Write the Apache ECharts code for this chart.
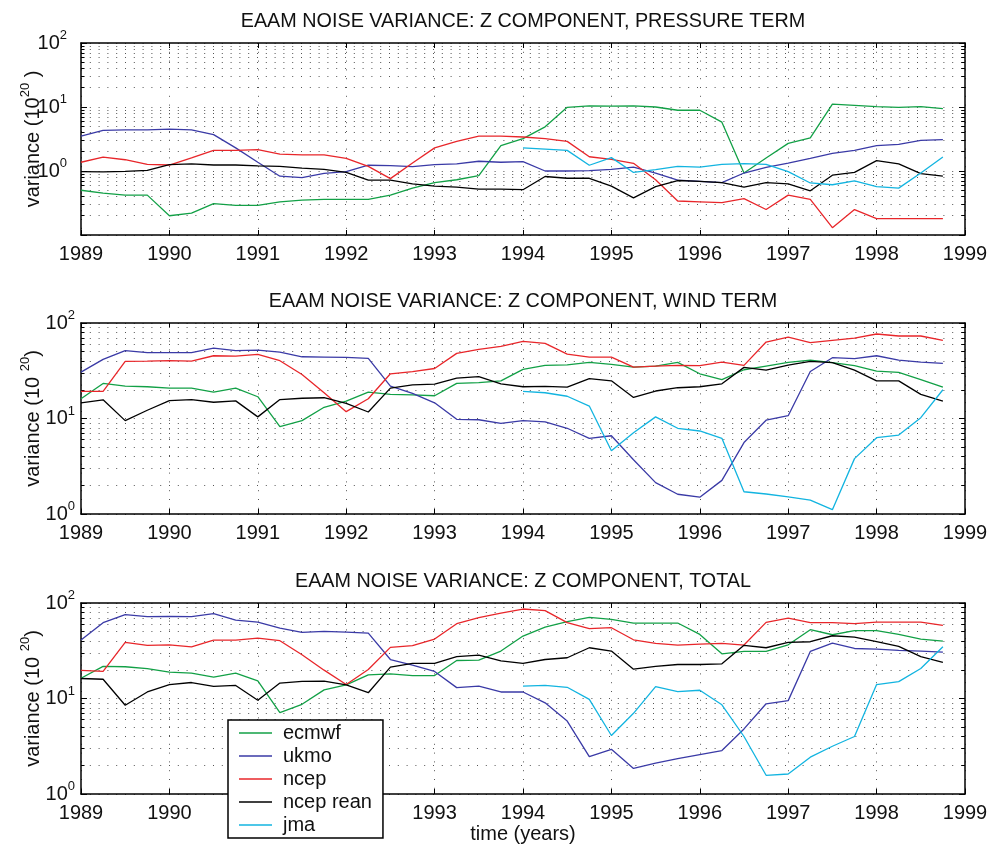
<!DOCTYPE html>
<html><head><meta charset="utf-8">
<script src="https://cdn.jsdelivr.net/npm/echarts@6/dist/echarts.min.js"></script>
<style>html,body{margin:0;padding:0;background:#fff}#c{width:987px;height:845px}</style>
</head><body><div id="c"></div>
<script>
// sample times (quarterly)
const times = [1989,1989.25,1989.5,1989.75,1990,1990.25,1990.5,1990.75,1991,1991.25,1991.5,1991.75,1992,1992.25,1992.5,1992.75,1993,1993.25,1993.5,1993.75,
  1994,1994.25,1994.5,1994.75,1995,1995.25,1995.5,1995.75,1996,1996.25,1996.5,1996.75,1997,1997.25,1997.5,1997.75,1998,1998.25,1998.5,1998.75];
const jmaTimes = times.slice(20);
const seriesNames = ['ecmwf','ukmo','ncep','ncep rean','jma'];
const seriesColors = ['#12a046','#3a3aa6','#e8262a','#000000','#12b4e0'];
const panelTitles = ['EAAM NOISE VARIANCE: Z COMPONENT, PRESSURE TERM','EAAM NOISE VARIANCE: Z COMPONENT, WIND TERM','EAAM NOISE VARIANCE: Z COMPONENT, TOTAL'];
const xTickYears = [1989,1990,1991,1992,1993,1994,1995,1996,1997,1998,1999];

// Panel 1: pressure term
const ecmwfP = [0.50,0.45,0.42,0.42,0.20,0.22,0.31,0.29,0.29,0.33,0.35,0.36,0.36,0.36,0.42,0.54,0.66,0.73,0.85,2.5, 3.2,4.9,9.9,10.4,10.3,10.4,10.0,8.9,8.9,5.8,0.93,1.6,2.7,3.3,11.1,10.6,10.1,9.9,10.1,9.4];
const ukmoP = [3.5,4.3,4.4,4.4,4.5,4.4,3.7,2.3,1.37,0.83,0.79,0.92,0.98,1.23,1.21,1.17,1.26,1.29,1.42,1.37, 1.40,1.0,1.0,1.01,1.06,1.15,0.93,0.72,0.69,0.66,0.93,1.14,1.33,1.58,1.89,2.1,2.5,2.6,3.0,3.1];
const ncepP = [1.37,1.65,1.50,1.27,1.24,1.60,2.1,2.1,2.15,1.84,1.78,1.78,1.58,1.18,0.76,1.33,2.3,2.9,3.5,3.5, 3.4,3.2,2.9,1.67,1.52,1.32,0.73,0.34,0.33,0.32,0.37,0.25,0.42,0.36,0.13,0.25,0.18,0.18,0.18,0.18];
const ncepReanP = [0.98,0.97,0.99,1.02,1.26,1.29,1.24,1.24,1.20,1.18,1.11,1.06,0.95,0.72,0.72,0.63,0.58,0.56,0.52,0.52, 0.51,0.82,0.77,0.77,0.58,0.38,0.57,0.71,0.69,0.66,0.56,0.66,0.63,0.49,0.86,0.95,1.45,1.29,0.91,0.83];
const jmaP = [2.3,2.2,2.1,1.23,1.62,0.95,1.05,1.18,1.15,1.27,1.30,1.27,0.98,0.65,0.61,0.70,0.57,0.54,0.93,1.65];

// Panel 2: wind term
const ecmwfW = [16.1,23.3,21.8,21.5,20.8,20.8,18.9,20.8,16.9,8.2,9.5,13.1,15.2,18.9,17.9,17.7,17.3,23.3,23.7,24.8, 32.7,36.0,36.5,38.7,36.8,34.5,35.4,38.7,29.4,25.5,32.4,35.4,38.7,40.9,38.4,35.7,31.4,30.4,25.6,21.3];
const ukmoW = [30.6,41.6,51.3,48.9,48.9,48.9,54.7,51.3,52.1,49.6,44.3,44.0,43.6,42.6,21.8,18.3,14.6,9.8,9.7,8.9, 9.5,9.2,7.9,6.2,6.6,3.7,2.13,1.61,1.50,2.25,5.6,9.6,10.7,31.1,43.3,42.3,45.4,40.9,39.0,37.8];
const ncepW = [19.2,19.2,39.6,39.9,40.3,39.9,45.4,45.1,46.9,40.3,28.9,18.6,11.8,16.1,29.4,30.9,33.4,48.1,52.9,56.9, 64.2,61.2,47.3,44.0,44.0,34.5,35.4,36.0,35.7,39.0,36.0,63.2,71.3,62.2,65.8,69.6,76.7,73.1,73.1,65.8];
const ncepReanW = [14.6,15.7,9.5,12.2,15.4,15.8,14.8,15.3,10.4,15.8,16.3,16.5,14.4,11.7,20.8,22.5,22.9,26.5,27.4,23.1, 21.5,21.7,21.3,26.1,24.8,16.6,19.4,21.0,21.5,23.1,34.3,32.1,36.3,39.6,38.4,32.1,24.8,24.8,17.9,15.2];
const jmaW = [19.2,18.6,17.1,13.5,4.6,7.1,10.4,7.9,7.4,6.2,1.71,1.62,1.51,1.40,1.11,3.8,6.3,6.7,10.2,20.0];

// Panel 3: total
const ecmwfT = [16.3,21.7,21.5,20.6,18.9,18.4,16.7,18.4,15.3,7.1,8.7,12.3,13.9,17.7,18.1,17.4,17.4,25.0,25.2,31.4, 45.1,56.0,63.7,70.7,67.4,61.7,61.7,61.7,46.9,29.4,31.1,31.1,36.5,52.5,46.5,51.3,51.3,46.9,41.9,39.9];
const ukmoT = [40.9,62.2,75.4,71.9,72.5,71.9,77.3,66.3,63.2,54.7,49.3,50.4,49.6,48.4,25.6,22.4,19.2,13.0,13.5,11.7, 11.7,9.0,5.8,2.46,2.94,1.85,2.10,2.35,2.59,2.85,4.8,8.8,9.5,31.1,38.0,33.4,32.9,31.9,31.4,30.6];
const ncepT = [19.7,19.2,38.7,36.0,36.5,34.8,40.9,40.9,42.9,40.3,28.7,19.8,14.0,20.1,34.3,35.7,41.9,60.7,70.2,78.5, 86.5,83.1,62.2,53.8,55.1,41.2,37.8,36.3,37.1,37.8,36.3,62.7,69.6,62.2,62.2,60.7,63.2,63.2,63.2,58.3];
const ncepReanT = [16.2,15.9,8.5,11.7,14.0,14.7,13.4,13.7,9.6,14.5,15.1,15.2,13.9,11.5,21.3,23.3,23.3,27.4,28.5,24.8, 23.3,25.6,26.7,34.0,31.4,20.3,21.7,22.7,22.7,23.1,36.0,34.0,38.7,39.3,45.4,44.0,39.3,35.1,27.4,23.9];
const jmaT = [13.5,13.7,13.1,9.8,4.1,7.0,13.3,11.8,12.2,8.6,4.0,1.57,1.62,2.43,3.16,4.0,14.0,15.0,20.6,34.8];

// axis ranges & minor grid values
const yMinP = 0.1, yMaxP = 100;
const yMinWT = 1, yMaxWT = 100;
const minorP = [0.2,0.3,0.4,0.5,0.6,0.7,0.8,0.9,2,3,4,5,6,7,8,9,20,30,40,50,60,70,80,90];
const minorWT = [2,3,4,5,6,7,8,9,20,30,40,50,60,70,80,90];

const panels = [
  {vals:[ecmwfP,ukmoP,ncepP,ncepReanP,jmaP], min:yMinP, max:yMaxP, minor:minorP, labelMargin:14, name:'{b|variance (10}{s|20}{b| )}'},
  {vals:[ecmwfW,ukmoW,ncepW,ncepReanW,jmaW], min:yMinWT, max:yMaxWT, minor:minorWT, labelMargin:6, name:'{b|variance (10 }{s|20}{b|)}'},
  {vals:[ecmwfT,ukmoT,ncepT,ncepReanT,jmaT], min:yMinWT, max:yMaxWT, minor:minorWT, labelMargin:6, name:'{b|variance (10 }{s|20}{b|)}'}
];

const FONT = '"Liberation Sans", Arial, Helvetica, sans-serif';
const gridBoxes = [{top:43, height:192},{top:323, height:191},{top:603, height:191}];
const titleY = [22, 302, 582];
const dot = [1, 7.8];
const gridColor = '#555';
const tickRich = {
  b:{fontSize:20, lineHeight:28, fontFamily:FONT, color:'#111'},
  s:{fontSize:13, lineHeight:13, verticalAlign:'top', fontFamily:FONT, color:'#111'}
};

const grid = [], xAxis = [], yAxis = [], series = [];
panels.forEach((p, k) => {
  grid.push({left:81, width:884, top:gridBoxes[k].top, height:gridBoxes[k].height, show:false,
    containLabel:false, outerBoundsMode:'none'});
  const xBase = {type:'value', gridIndex:k, min:xTickYears[0], max:xTickYears[xTickYears.length-1], interval:1,
    axisLine:{show:true, onZero:false, lineStyle:{color:'#000', width:1.5}},
    axisTick:{show:true, inside:true, length:5, lineStyle:{color:'#000', width:1}}};
  xAxis.push(Object.assign({}, xBase, {position:'bottom',
    axisLabel:{show:true, margin:9, fontSize:20, fontFamily:FONT, color:'#111', formatter:v=>String(Math.round(v))},
    splitLine:{show:true, lineStyle:{color:gridColor, width:1, type:dot}},
    name: k===2 ? 'time (years)' : '', nameLocation:'middle', nameGap:30, nameMoveOverlap:false,
    nameTextStyle:{fontSize:20, fontFamily:FONT, color:'#111'}}));
  xAxis.push(Object.assign({}, xBase, {position:'top', axisLabel:{show:false}, splitLine:{show:false}}));
  const yBase = {type:'log', logBase:10, gridIndex:k, min:p.min, max:p.max, interval:1,
    axisLine:{show:true, onZero:false, lineStyle:{color:'#000', width:1.5}},
    axisTick:{show:true, inside:true, length:6, lineStyle:{color:'#000', width:1}}};
  yAxis.push(Object.assign({}, yBase, {position:'left',
    axisLabel:{show:true, margin:p.labelMargin, rich:tickRich,
      formatter:v=>{const e=Math.round(Math.log10(v)); if (k===0 && e===-1) return ''; return '{b|10}{s|'+e+'}';}},
    splitLine:{show:true, lineStyle:{color:gridColor, width:1, type:dot}},
    name:p.name, nameLocation:'middle', nameGap:34, nameRotate:90, nameMoveOverlap:false,
    nameTextStyle:{rich:tickRich}}));
  yAxis.push(Object.assign({}, yBase, {position:'right', axisLabel:{show:false}, splitLine:{show:false}}));

  p.vals.forEach((vals, j) => {
    const ts = (j === 4) ? jmaTimes : times;
    const s = {
      type:'line', name:seriesNames[j], xAxisIndex:2*k, yAxisIndex:2*k,
      data: ts.map((t,i)=>[t, vals[i]]),
      symbol:'none', showSymbol:false, animation:false, silent:true,
      lineStyle:{color:seriesColors[j], width:1.3}, itemStyle:{color:seriesColors[j]},
      emphasis:{disabled:true}, z:3+j
    };
    if (j === 0) {
      const x0 = xTickYears[0], x1 = xTickYears[xTickYears.length-1];
      const tl = 0.04;
      const md = [];
      p.minor.forEach(v => md.push({yAxis:v, lineStyle:{color:gridColor, width:1, type:dot}}));
      p.minor.forEach(v => {
        md.push([{coord:[x0, v], lineStyle:{color:'#000', width:1, type:'solid'}}, {coord:[x0+tl, v]}]);
        md.push([{coord:[x1-tl, v], lineStyle:{color:'#000', width:1, type:'solid'}}, {coord:[x1, v]}]);
      });
      s.markLine = {silent:true, symbol:['none','none'], animation:false, label:{show:false},
        emphasis:{disabled:true}, data:md, z:1};
    }
    series.push(s);
  });
});

const chart = echarts.init(document.getElementById('c'), null, {renderer:'canvas'});
chart.setOption({
  animation:false,
  backgroundColor:'#fff',
  textStyle:{fontFamily:FONT},
  grid, xAxis, yAxis, series,
  graphic: panelTitles.map((t,i)=>({type:'text', x:523, y:titleY[i], silent:true,
    style:{text:t, font:'19.8px '+FONT, fill:'#111', align:'center', verticalAlign:'middle'}})),
  legend:{data:seriesNames, orient:'vertical', left:228, top:720, padding:[3,11,3,11],
    icon:'rect', itemWidth:33, itemHeight:1.6, itemGap:3, backgroundColor:'#fff', borderColor:'#000', borderWidth:1.5,
    selectedMode:false, textStyle:{fontSize:20, fontFamily:FONT, color:'#111', padding:[0,0,0,6]}, z:20}
});
</script></body></html>
